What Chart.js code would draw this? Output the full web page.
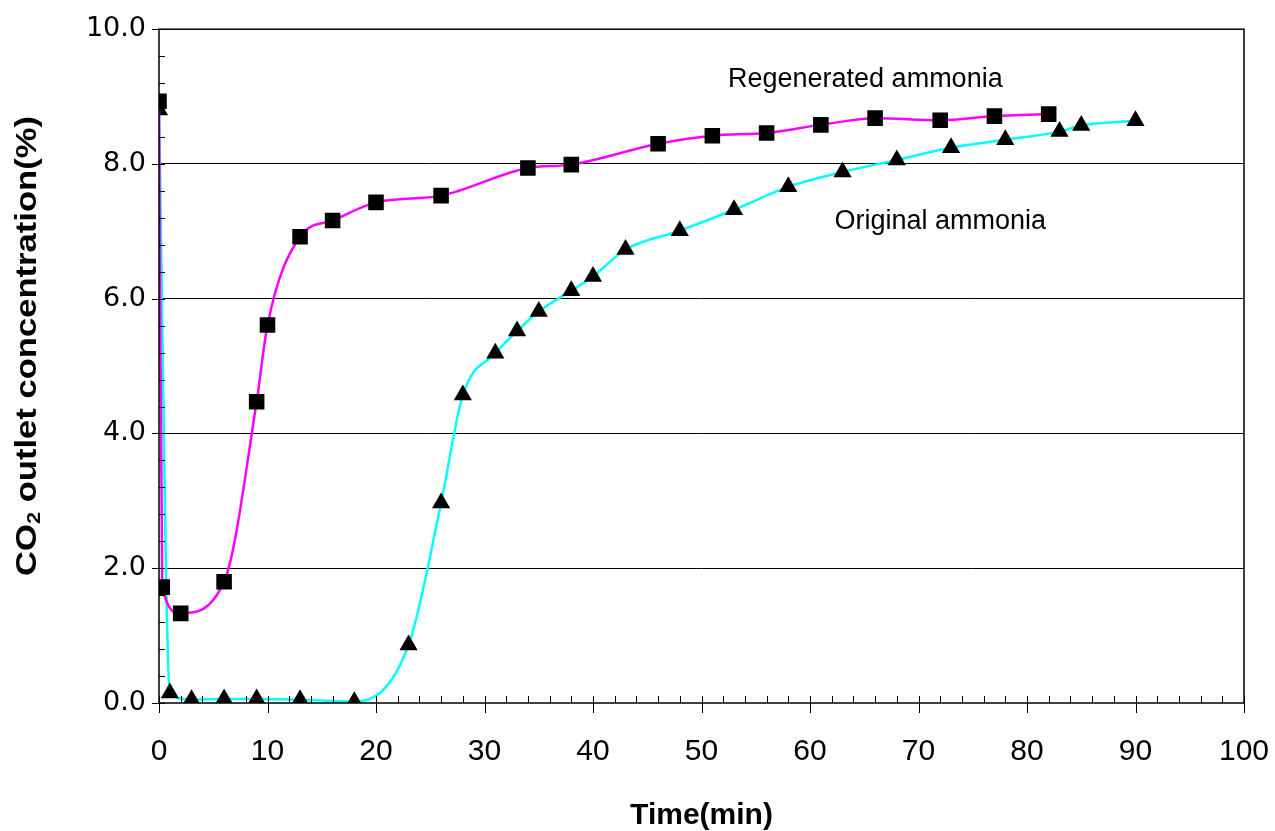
<!DOCTYPE html>
<html>
<head>
<meta charset="utf-8">
<script src="https://cdn.jsdelivr.net/npm/chart.js@4"></script>
<style>
  html, body { margin: 0; padding: 0; background: #fff; }
  #wrap { width: 1275px; height: 831px; }
</style>
</head>
<body>
<div id="wrap"><canvas id="myChart" width="1275" height="831"></canvas></div>
<script>
// data
const timeRegen = [0, 0.3, 2, 6, 9, 10, 13, 16, 20, 26, 34, 38, 46, 51, 56, 61, 66, 72, 77, 82];
const co2Regen = [8.93, 1.72, 1.33, 1.80, 4.47, 5.61, 6.92, 7.16, 7.43, 7.53, 7.94, 7.99, 8.30, 8.42, 8.46, 8.58, 8.68, 8.65, 8.71, 8.74];

const timeOrig = [0, 1, 3, 6, 9, 13, 18, 23, 26, 28, 31, 33, 35, 38, 40, 43, 48, 53, 58, 63, 68, 73, 78, 83, 85, 90];
const co2Orig = [8.80, 0.15, 0.05, 0.06, 0.06, 0.05, 0.02, 0.86, 2.97, 4.57, 5.19, 5.52, 5.81, 6.12, 6.33, 6.73, 7.01, 7.32, 7.66, 7.88, 8.06, 8.24, 8.36, 8.48, 8.57, 8.64];

const xMin = 0, xMax = 100, xStep = 2, xMajor = 10;
const yMin = 0, yMax = 10, yStep = 0.4, yMajor = 2;

const seriesNames = ["Regenerated ammonia", "Original ammonia"];
// where the two curve names sit, in data units
const labelPos = [[65.1, 9.26], [72.0, 7.14]];

const FONT = "'Liberation Sans', Arial, sans-serif";

function toPoints(xs, ys) {
  return xs.map((x, i) => ({ x: x, y: ys[i] }));
}
function isMajor(v, step) {
  return Math.abs(v / step - Math.round(v / step)) < 1e-6;
}

// box round the plot, tick marks, curve names and the y title
const decor = {
  id: "decor",
  afterDraw(chart) {
    const ctx = chart.ctx;
    const a = chart.chartArea;
    const xs = chart.scales.x, ys = chart.scales.y;
    ctx.save();
    ctx.strokeStyle = "#000";
    ctx.lineWidth = 1.5;
    ctx.strokeRect(a.left, a.top, a.right - a.left, a.bottom - a.top);

    ctx.lineWidth = 1;
    ctx.beginPath();
    ys.ticks.forEach(t => {
      const py = Math.round(ys.getPixelForValue(t.value)) + 0.5;
      if (isMajor(t.value, yMajor)) {
        ctx.moveTo(a.left - 7, py); ctx.lineTo(a.left + 6, py);
      } else {
        ctx.moveTo(a.left, py); ctx.lineTo(a.left + 6, py);
      }
    });
    xs.ticks.forEach(t => {
      const px = Math.round(xs.getPixelForValue(t.value)) + 0.5;
      if (isMajor(t.value, xMajor)) {
        ctx.moveTo(px, a.bottom + 10); ctx.lineTo(px, a.bottom - 7);
      } else {
        ctx.moveTo(px, a.bottom); ctx.lineTo(px, a.bottom - 7);
      }
    });
    ctx.stroke();

    ctx.fillStyle = "#000";
    ctx.font = "27px " + FONT;
    ctx.textAlign = "center";
    ctx.textBaseline = "middle";
    seriesNames.forEach((name, i) => {
      ctx.fillText(name, xs.getPixelForValue(labelPos[i][0]), ys.getPixelForValue(labelPos[i][1]));
    });

    // y title: CO2 with a real subscript
    const big = "bold 30px " + FONT, small = "bold 19px " + FONT;
    const p1 = "CO", p2 = "2", p3 = " outlet concentration(%)";
    ctx.font = big; const w1 = ctx.measureText(p1).width, w3 = ctx.measureText(p3).width;
    ctx.font = small; const w2 = ctx.measureText(p2).width;
    const total = w1 + w2 + w3;
    const target = 460;
    ctx.translate(28, 346);
    ctx.rotate(-Math.PI / 2);
    ctx.scale(target / total, 1);
    ctx.textAlign = "left";
    ctx.textBaseline = "middle";
    let x0 = -total / 2;
    ctx.font = big; ctx.fillText(p1, x0, 0); x0 += w1;
    ctx.font = small; ctx.fillText(p2, x0, 7); x0 += w2;
    ctx.font = big; ctx.fillText(p3, x0, 0);
    ctx.restore();
  }
};

window.onload = function() {
  const ctx = document.getElementById("myChart").getContext("2d");

  const data = {
    datasets: [
      {
        label: seriesNames[0],
        data: toPoints(timeRegen, co2Regen),
        borderColor: "#FF00FF",
        borderWidth: 2.5,
        pointStyle: "rect",
        pointRadius: 11,
        pointBackgroundColor: "#000",
        pointBorderColor: "#000",
        pointBorderWidth: 0,
        cubicInterpolationMode: "monotone",
        order: 1
      },
      {
        label: seriesNames[1],
        data: toPoints(timeOrig, co2Orig),
        borderColor: "#00FFFF",
        borderWidth: 2.5,
        pointStyle: "triangle",
        pointRadius: 10.5,
        pointBackgroundColor: "#000",
        pointBorderColor: "#000",
        pointBorderWidth: 0,
        cubicInterpolationMode: "monotone",
        order: 2
      }
    ]
  };

  const options = {
    responsive: false,
    animation: false,
    devicePixelRatio: 1,
    layout: { padding: { left: 0, top: 27, right: 31, bottom: 0 } },
    plugins: {
      legend: { display: false },
      tooltip: { enabled: false }
    },
    scales: {
      x: {
        type: "linear",
        min: xMin,
        max: xMax,
        ticks: {
          stepSize: xStep,
          autoSkip: false,
          maxRotation: 0,
          padding: 31,
          color: "#000",
          font: { family: FONT, size: 30 },
          callback: v => isMajor(v, xMajor) ? String(Math.round(v)) : ""
        },
        grid: { display: false, drawTicks: false },
        border: { display: false },
        title: {
          display: true,
          text: "Time(min)",
          color: "#000",
          font: { family: FONT, size: 30, weight: "bold", lineHeight: 1 },
          padding: { top: 0, bottom: 0 }
        },
        afterFit: s => {
          s.height = 128;
          s.paddingLeft = 0;
          s.paddingRight = 0;
        }
      },
      y: {
        type: "linear",
        min: yMin,
        max: yMax,
        ticks: {
          stepSize: yStep,
          autoSkip: false,
          padding: 13,
          color: "#000",
          font: { family: "'DejaVu Sans', sans-serif", size: 27 },
          callback: v => isMajor(v, yMajor) ? v.toFixed(1) : ""
        },
        grid: {
          drawTicks: false,
          lineWidth: 1,
          color: c => {
            const v = c.tick ? c.tick.value : 0;
            return (isMajor(v, yMajor) && v > yMin && v < yMax) ? "#000" : "rgba(0,0,0,0)";
          }
        },
        border: { display: false },
        afterFit: s => { s.width = 159; }
      }
    }
  };

  new Chart(ctx, {
    type: "line",
    data: data,
    options: options,
    plugins: [decor]
  });
};
</script>
</body>
</html>
